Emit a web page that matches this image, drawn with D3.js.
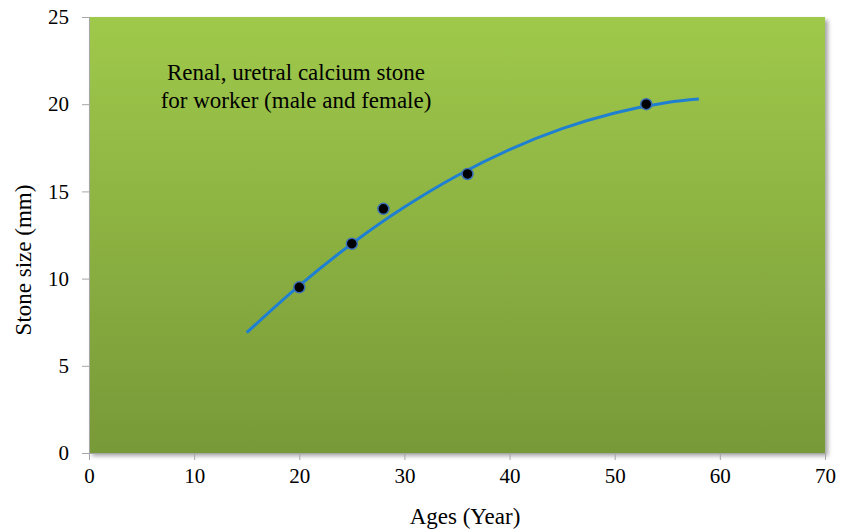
<!DOCTYPE html>
<html>
<head>
<meta charset="utf-8">
<script src="https://cdn.jsdelivr.net/npm/d3@7"></script>
<style>
body { margin: 0; background: #fff; }
svg text { font-family: "Liberation Serif", "Times New Roman", serif; fill: #000; }
</style>
</head>
<body>
<svg id="chart" width="842" height="532"></svg>
<script>
// measured points
const ages = [20, 25, 28, 36, 53];
const stoneSize = [9.5, 12, 14, 16, 20];
// trend line
const trendAges = [15, 20, 25, 30, 35, 40, 45, 50, 55, 58];
const trendSize = [6.9, 9.6, 12.0, 14.1, 15.9, 17.4, 18.6, 19.5, 20.1, 20.3];
const xTicks = [0, 10, 20, 30, 40, 50, 60, 70];
const yTicks = [0, 5, 10, 15, 20, 25];

const drawChart = (svg_name) => {
	let chart = d3.select(svg_name);
	let margin = {left:89,top:17,right:17,bottom:79};
	let width = 842, height = 532;

	let x = d3.scaleLinear().domain([0,70]).range([margin.left, width - margin.right]);
	let y = d3.scaleLinear().domain([0,25]).range([height - margin.bottom, margin.top]);

	let defs = chart.append("defs");
	let grad = defs.append("linearGradient")
		.attr("id","bg").attr("x1",0).attr("y1",0).attr("x2",0).attr("y2",1);
	grad.append("stop").attr("offset","0%").attr("stop-color","#9fc94b");
	grad.append("stop").attr("offset","100%").attr("stop-color","#789938");

	let shadow = defs.append("filter").attr("id","shadow")
		.attr("x","-5%").attr("y","-5%").attr("width","110%").attr("height","110%");
	shadow.append("feDropShadow").attr("dx",3).attr("dy",3).attr("stdDeviation",2)
		.attr("flood-color","#000").attr("flood-opacity",0.35);

	chart.append("rect")
		.attr("x", x(0)).attr("y", y(25))
		.attr("width", x(70) - x(0)).attr("height", y(0) - y(25))
		.style("fill","url(#bg)")
		.attr("filter","url(#shadow)");

	addAxes(chart, x, y);
	addTrend(chart, x, y);
	addPoints(chart, x, y);

	chart.append("text")
		.attr("x", 296).attr("y", 80)
		.style("text-anchor","middle").style("font-size","23px")
		.text("Renal, uretral calcium stone");
	chart.append("text")
		.attr("x", 296).attr("y", 108)
		.style("text-anchor","middle").style("font-size","23px")
		.text("for worker (male and female)");
}

const addAxes = (chart, x, y) => {
	let x_axis = d3.axisBottom(x).tickValues(xTicks).tickSize(7).tickPadding(8);
	let gx = chart.append("g")
		.attr("class","x axis")
		.attr("transform",`translate(0,${y(0)})`)
		.call(x_axis);

	let y_axis = d3.axisLeft(y).tickValues(yTicks).tickSize(7).tickPadding(13);
	let gy = chart.append("g")
		.attr("class","y axis")
		.attr("transform",`translate(${x(0)},0)`)
		.call(y_axis);

	[gx, gy].forEach((g) => {
		g.selectAll("path, line").style("stroke","#a6a6a6");
		g.selectAll("text").style("font-size","21px")
			.style("font-family","\"Liberation Serif\", serif").style("fill","#000");
	});

	chart.append("text")
		.attr("x", (x(0) + x(70)) / 2 + 8).attr("y", 524)
		.style("text-anchor","middle").style("font-size","23px")
		.text("Ages (Year)");

	chart.append("text")
		.attr("transform","rotate(-90)")
		.attr("x", -(y(0) + y(25)) / 2 - 25).attr("y", 31)
		.style("text-anchor","middle").style("font-size","23px")
		.text("Stone size (mm)");
}

const addTrend = (chart, x, y) => {
	let trend = trendAges.map((a, i) => ({age: a, size: trendSize[i]}));
	let line = d3.line()
		.x((d) => x(d.age))
		.y((d) => y(d.size))
		.curve(d3.curveCatmullRom);
	chart.append("path")
		.datum(trend)
		.style("fill","none")
		.style("stroke","#1f7fd1")
		.style("stroke-width",3)
		.attr("d", line);
}

const addPoints = (chart, x, y) => {
	chart.selectAll(".pt")
		.data(ages.map((a, i) => ({age: a, size: stoneSize[i]})))
		.enter().append("circle")
		.attr("class","pt")
		.attr("cx", (d) => x(d.age))
		.attr("cy", (d) => y(d.size))
		.attr("r", 5.5)
		.style("fill","#000")
		.style("stroke","#3b6fb8")
		.style("stroke-width",1.5);
}

drawChart("#chart");
</script>
</body>
</html>
